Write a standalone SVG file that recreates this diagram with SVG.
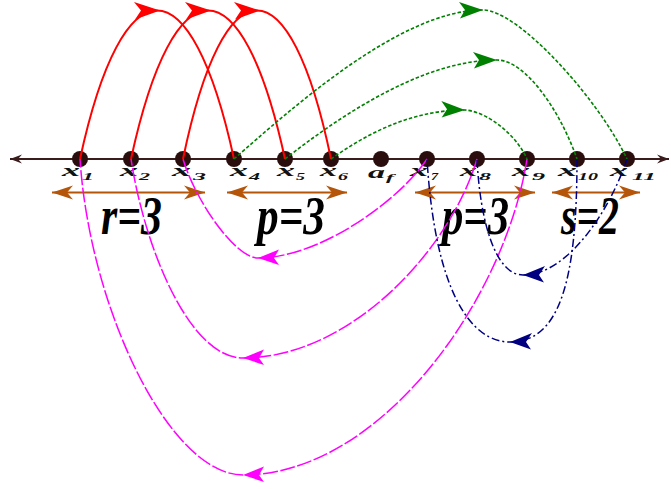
<svg xmlns="http://www.w3.org/2000/svg" width="671" height="489" viewBox="0 0 671 489">
  <style>
    .axis { stroke: #3a1c1c; stroke-width: 2; fill: none; }
    .node { fill: #2a0e0e; }
    .lbl { font-family: "Liberation Serif", "Times New Roman", serif; font-style: italic; font-weight: bold; fill: #111; }
    .sym { font-size: 17px; }
    .sub { font-size: 11px; }
    .big { font-family: "Liberation Serif", "Times New Roman", serif; font-style: italic; font-weight: bold; font-size: 55px; fill: #000; }
    .span { stroke: #b4550a; stroke-width: 2; fill: none; marker-start: url(#ahBrown); marker-end: url(#ahBrown); }
    .red { stroke: #ff0000; stroke-width: 2; fill: none; marker-mid: url(#ahRed); }
    .green { stroke: #008000; stroke-width: 1.6; fill: none; stroke-dasharray: 3.5 2; marker-mid: url(#ahGreen); }
    .mag { stroke: #ff00ff; stroke-width: 1.5; fill: none; stroke-dasharray: 15 2.5; marker-mid: url(#ahMag); }
    .navy { stroke: #000080; stroke-width: 1.5; fill: none; stroke-dasharray: 8 3 2 3; marker-mid: url(#ahNavy); }
  </style>
  <defs>
    <marker id="ahRed" viewBox="-28 -11 31 22" markerWidth="31" markerHeight="22" refX="-3" refY="0" orient="auto" markerUnits="userSpaceOnUse">
      <path d="M0 0 L-26 -8.5 L-19 0 L-25 9 Z" fill="#ff0000"/>
    </marker>
    <marker id="ahGreen" viewBox="-27 -11 29 22" markerWidth="29" markerHeight="22" refX="0" refY="0" orient="auto" markerUnits="userSpaceOnUse">
      <path d="M0 0 L-24 -8 L-18 0 L-23 8.5 Z" fill="#008000"/>
    </marker>
    <marker id="ahMag" viewBox="-24 -11 26 22" markerWidth="26" markerHeight="22" refX="0" refY="0" orient="auto" markerUnits="userSpaceOnUse">
      <path d="M0 0 L-21 -7 L-16 0 L-21 8.5 Z" fill="#ff00ff"/>
    </marker>
    <marker id="ahNavy" viewBox="-25 -11 27 22" markerWidth="27" markerHeight="22" refX="0" refY="0" orient="auto" markerUnits="userSpaceOnUse">
      <path d="M0 0 L-21 -7.5 L-16 0 L-22 9 Z" fill="#000080"/>
    </marker>
    <marker id="ahBrown" viewBox="-23 -9 25 18" markerWidth="25" markerHeight="18" refX="0" refY="0" orient="auto-start-reverse" markerUnits="userSpaceOnUse">
      <path d="M0 0 L-21 -7 L-15 0 L-21 7 Z" fill="#b4550a"/>
    </marker>
    <marker id="ahAxis" viewBox="-14 -6 16 12" markerWidth="16" markerHeight="12" refX="0" refY="0" orient="auto-start-reverse" markerUnits="userSpaceOnUse">
      <path d="M0 0 L-12 -4.5 L-8 0 L-12 4.5 Z" fill="#3a1c1c"/>
    </marker>
  </defs>

  <!-- number line -->
  <line class="axis" x1="10" y1="159" x2="669" y2="159" marker-start="url(#ahAxis)" marker-end="url(#ahAxis)"/>

  <!-- block spans and their sizes -->
  <g id="spans">
    <line class="span" x1="52" y1="192.5" x2="205" y2="192.5"/>
    <line class="span" x1="227" y1="192.5" x2="347" y2="192.5"/>
    <line class="span" x1="415" y1="192.5" x2="535" y2="192.5"/>
    <line class="span" x1="552" y1="192.5" x2="640" y2="192.5"/>
    <text class="big" x="101" y="234" textLength="61" lengthAdjust="spacingAndGlyphs">r=3</text>
    <text class="big" x="257" y="234" textLength="68" lengthAdjust="spacingAndGlyphs">p=3</text>
    <text class="big" x="442" y="234" textLength="67" lengthAdjust="spacingAndGlyphs">p=3</text>
    <text class="big" x="561" y="234" textLength="58" lengthAdjust="spacingAndGlyphs">s=2</text>
  </g>

  <!-- points on the line -->
  <g id="x1"><circle class="node" cx="80" cy="159" r="8"/>
    <text class="lbl sym" x="62" y="176" textLength="18" lengthAdjust="spacingAndGlyphs">x</text>
    <text class="lbl sub" x="82" y="180" textLength="12" lengthAdjust="spacingAndGlyphs">1</text></g>
  <g id="x2"><circle class="node" cx="131" cy="159" r="8"/>
    <text class="lbl sym" x="120" y="176" textLength="18" lengthAdjust="spacingAndGlyphs">x</text>
    <text class="lbl sub" x="139" y="180" textLength="11" lengthAdjust="spacingAndGlyphs">2</text></g>
  <g id="x3"><circle class="node" cx="183" cy="159" r="8"/>
    <text class="lbl sym" x="172" y="176" textLength="19" lengthAdjust="spacingAndGlyphs">x</text>
    <text class="lbl sub" x="193" y="180" textLength="13" lengthAdjust="spacingAndGlyphs">3</text></g>
  <g id="x4"><circle class="node" cx="234" cy="159" r="8"/>
    <text class="lbl sym" x="230" y="176" textLength="18" lengthAdjust="spacingAndGlyphs">x</text>
    <text class="lbl sub" x="249" y="180" textLength="11" lengthAdjust="spacingAndGlyphs">4</text></g>
  <g id="x5"><circle class="node" cx="285" cy="159" r="8"/>
    <text class="lbl sym" x="277" y="176" textLength="18" lengthAdjust="spacingAndGlyphs">x</text>
    <text class="lbl sub" x="296" y="180" textLength="9" lengthAdjust="spacingAndGlyphs">5</text></g>
  <g id="x6"><circle class="node" cx="331" cy="159" r="8"/>
    <text class="lbl sym" x="320" y="176" textLength="17" lengthAdjust="spacingAndGlyphs">x</text>
    <text class="lbl sub" x="338" y="180" textLength="10" lengthAdjust="spacingAndGlyphs">6</text></g>
  <g id="af"><circle class="node" cx="381" cy="159" r="8"/>
    <text class="lbl sym" x="368" y="178" textLength="17" lengthAdjust="spacingAndGlyphs">a</text>
    <text class="lbl sub" x="386" y="181" textLength="8" lengthAdjust="spacingAndGlyphs">f</text></g>
  <g id="x7"><circle class="node" cx="427" cy="159" r="8"/>
    <text class="lbl sym" x="410" y="176" textLength="18" lengthAdjust="spacingAndGlyphs">x</text>
    <text class="lbl sub" x="431" y="180" textLength="7" lengthAdjust="spacingAndGlyphs">7</text></g>
  <g id="x8"><circle class="node" cx="477" cy="159" r="8"/>
    <text class="lbl sym" x="460" y="176" textLength="17" lengthAdjust="spacingAndGlyphs">x</text>
    <text class="lbl sub" x="479" y="180" textLength="12" lengthAdjust="spacingAndGlyphs">8</text></g>
  <g id="x9"><circle class="node" cx="527" cy="159" r="8"/>
    <text class="lbl sym" x="512" y="176" textLength="18" lengthAdjust="spacingAndGlyphs">x</text>
    <text class="lbl sub" x="532" y="180" textLength="13" lengthAdjust="spacingAndGlyphs">9</text></g>
  <g id="x10"><circle class="node" cx="577" cy="159" r="8"/>
    <text class="lbl sym" x="558" y="176" textLength="19" lengthAdjust="spacingAndGlyphs">x</text>
    <text class="lbl sub" x="578" y="180" textLength="20" lengthAdjust="spacingAndGlyphs">10</text></g>
  <g id="x11"><circle class="node" cx="627" cy="159" r="8"/>
    <text class="lbl sym" x="610" y="176" textLength="18" lengthAdjust="spacingAndGlyphs">x</text>
    <text class="lbl sub" x="632" y="180" textLength="24" lengthAdjust="spacingAndGlyphs">11</text></g>

  <!-- moves between points; each arrowhead sits on the middle vertex -->
  <g id="connectors">
    <path class="red" d="M80 159 C101.5 60 129.25 10.5 157 10.5 C184.75 10.5 212.5 60 234 159"/>
    <path class="red" d="M131 159 C152.5 60 180.25 10.5 208 10.5 C235.75 10.5 263.5 60 285 159"/>
    <path class="red" d="M183 159 C203.5 60 230.25 10.5 257 10.5 C283.75 10.5 310.5 60 331 159"/>

    <path class="green" d="M234 159 C290 110 400 10 483 10 C518 10 598 98 627 159"/>
    <path class="green" d="M285 159 C335 120 420 60 497 60 C525 60 560 110 577 159"/>
    <path class="green" d="M331 159 C365 135 410 110 465 110 C490 112 518 138 527 159"/>

    <path class="mag" d="M427 159 C400 200 320 258 258 258 C235 258 195 200 183 159"/>
    <path class="mag" d="M477 159 C450 250 350 358 243 358 C190 358 145 250 131 159"/>
    <path class="mag" d="M527 159 C505 300 380 475 243 475 C170 475 90 310 80 159"/>

    <path class="navy" d="M577 159 C577 280 560 342 510 342 C470 342 435 290 427 159"/>
    <path class="navy" d="M627 159 C612 205 570 275 523 275 C495 275 480 220 477 159"/>
  </g>
</svg>
